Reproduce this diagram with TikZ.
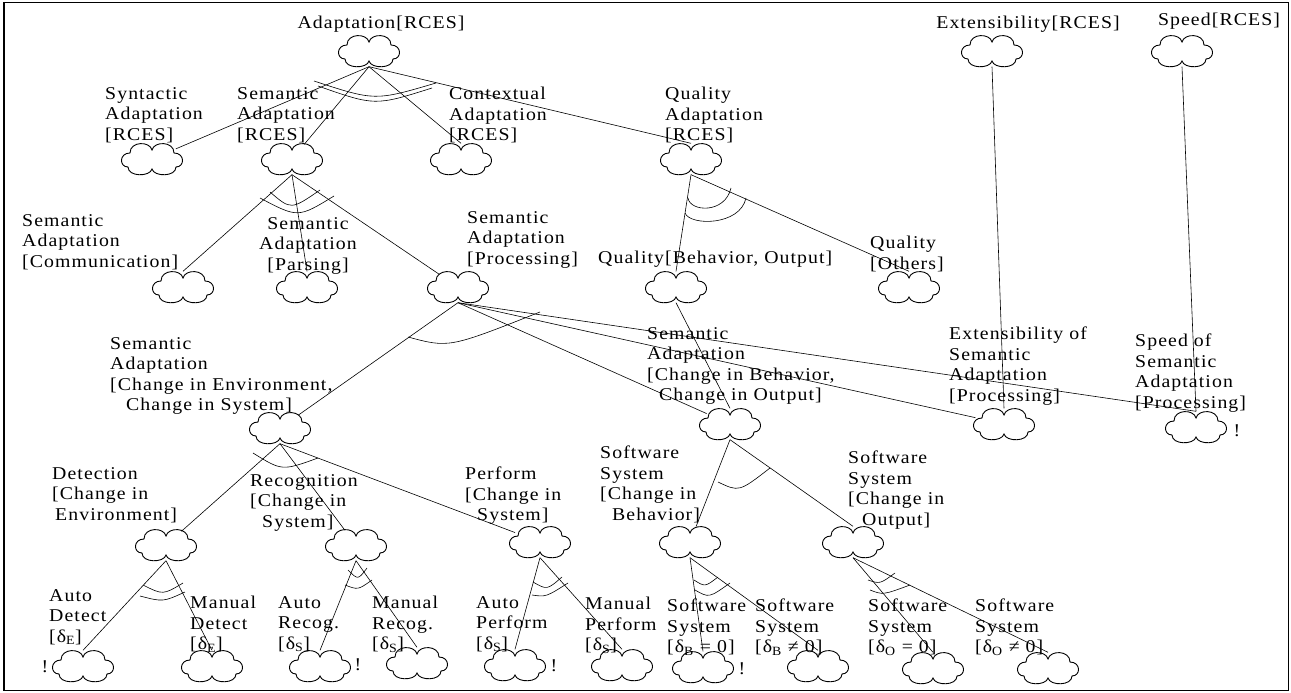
\documentclass[tikz,border=0pt]{standalone}
\usepackage{fontspec}
\setmainfont{Liberation Serif}[FakeStretch=1.1,LetterSpace=6]
\usetikzlibrary{shapes.geometric}

\tikzset{
  pics/goalcloud/.style={code={
    \draw[line width=0.9pt] (-24,8) .. controls (-33,8) and (-33,-6) .. (-22,-6)
      .. controls (-22,-18) and (-2,-18) .. (0,-9)
      .. controls (2,-18) and (22,-18) .. (22,-6)
      .. controls (33,-6) and (33,8) .. (24,8)
      .. controls (24,18) and (2,18) .. (0,10)
      .. controls (-2,18) and (-24,18) .. (-24,8) -- cycle;}}
}

\begin{document}
\begin{tikzpicture}[x=1pt,y=-1pt,
  goal/.style={ellipse, minimum width=62pt, minimum height=31pt, inner sep=0pt,
    append after command={(\tikzlastnode.center) pic {goalcloud}}},
  lbl/.style={inner sep=0pt, align=left, anchor=north west,
    font=\fontsize{18}{20.5}\selectfont},
  bang/.style={inner sep=0pt, font=\fontsize{18}{20.5}\selectfont},
  link/.style={line width=0.6pt}]
  \useasboundingbox (0,0) rectangle (1291,693);
  \draw[line width=1.8pt] (4,2.5) rectangle (1288.5,690.5);

  % clouds
  \node[goal] (adapt) at (369,51) {};
  \node[goal] (ext) at (992,51) {};
  \node[goal] (spd) at (1182,51) {};
  \node[goal] (syn) at (152,159) {};
  \node[goal] (sem) at (292,159) {};
  \node[goal] (ctx) at (461,159) {};
  \node[goal] (qual) at (691,159) {};
  \node[goal] (comm) at (183,287) {};
  \node[goal] (pars) at (307,287) {};
  \node[goal] (proc) at (458,287) {};
  \node[goal] (qbo) at (676,287) {};
  \node[goal] (qoth) at (909,287) {};
  \node[goal] (cie) at (280,428) {};
  \node[goal] (cib) at (730,424) {};
  \node[goal] (extsa) at (1004,424) {};
  \node[goal] (spdsa) at (1196,427) {};
  \node[goal] (det) at (166,545) {};
  \node[goal] (rec) at (356,545) {};
  \node[goal] (perf) at (540,542) {};
  \node[goal] (ssb) at (690,542) {};
  \node[goal] (sso) at (853,542) {};
  \node[goal] (ad) at (83,666) {};
  \node[goal] (md) at (212,666) {};
  \node[goal] (ar) at (320,666) {};
  \node[goal] (mr) at (417,663) {};
  \node[goal] (ap) at (515,665) {};
  \node[goal] (mp) at (622,665) {};
  \node[goal] (bz) at (703,667) {};
  \node[goal] (bn) at (818,666) {};
  \node[goal] (oz) at (933,668) {};
  \node[goal] (on) at (1048,668) {};

  % labels
  \node[lbl, anchor=center] (ladapt) at (381,24) {Adaptation[RCES]};
  \node[lbl, anchor=center] (lext) at (1028,24) {Extensibility[RCES]};
  \node[lbl, anchor=center] (lspd) at (1219,21) {Speed[RCES]};
  \node[lbl] (lsyn) at (105,87) {Syntactic\\Adaptation\\{[RCES]}};
  \node[lbl] (lsem) at (237,87) {Semantic\\Adaptation\\{[RCES]}};
  \node[lbl] (lctx) at (449,87) {Contextual\\Adaptation\\{[RCES]}};
  \node[lbl] (lqual) at (665,87) {Quality\\Adaptation\\{[RCES]}};
  \node[lbl] (lcomm) at (22,214) {Semantic\\Adaptation\\{[Communication]}};
  \node[lbl, align=center, anchor=north] (lpars) at (308,217) {Semantic\\Adaptation\\{[Parsing]}};
  \node[lbl] (lproc) at (467,211) {Semantic\\Adaptation\\{[Processing]}};
  \node[lbl, anchor=west] (lqbo) at (598,259) {Quality[Behavior, Output]};
  \node[lbl] (lqoth) at (870,236) {Quality\\{[Others]}};
  \node[lbl] (lcie) at (110,337) {Semantic\\Adaptation\\{[Change in Environment,}\\\hspace*{16pt}Change in System]};
  \node[lbl] (lcib) at (647,327) {Semantic\\Adaptation\\{[Change in Behavior,}\\\hspace*{12pt}Change in Output]};
  \node[lbl] (lextsa) at (949,327) {Extensibility of\\Semantic\\Adaptation\\{[Processing]}};
  \node[lbl] (lspdsa) at (1135,334) {Speed of\\Semantic\\Adaptation\\{[Processing]}};
  \node[lbl] (ldet) at (52,467) {Detection\\{[Change in}\\\hspace*{3pt}Environment]};
  \node[lbl] (lrec) at (250,474) {Recognition\\{[Change in}\\\hspace*{12pt}System]};
  \node[lbl] (lperf) at (465,467) {Perform\\{[Change in}\\\hspace*{12pt}System]};
  \node[lbl] (lssb) at (600,446) {Software\\System\\{[Change in}\\\hspace*{12pt}Behavior]};
  \node[lbl] (lsso) at (848,451) {Software\\System\\{[Change in}\\\hspace*{14pt}Output]};
  \node[lbl] (lad) at (49,589) {Auto\\Detect\\{[δ\textsubscript{E}]}};
  \node[lbl] (lmd) at (190,596) {Manual\\Detect\\{[δ\textsubscript{E}]}};
  \node[lbl] (lar) at (278,596) {Auto\\Recog.\\{[δ\textsubscript{S}]}};
  \node[lbl] (lmr) at (372,596) {Manual\\Recog.\\{[δ\textsubscript{S}]}};
  \node[lbl] (lap) at (476,596) {Auto\\Perform\\{[δ\textsubscript{S}]}};
  \node[lbl] (lmp) at (585,597) {Manual\\Perform\\{[δ\textsubscript{S}]}};
  \node[lbl] (lbz) at (667,599) {Software\\System\\{[δ\textsubscript{B} = 0]}};
  \node[lbl] (lbn) at (755,599) {Software\\System\\{[δ\textsubscript{B} ≠ 0]}};
  \node[lbl] (loz) at (868,599) {Software\\System\\{[δ\textsubscript{O} = 0]}};
  \node[lbl] (lon) at (975,599) {Software\\System\\{[δ\textsubscript{O} ≠ 0]}};

  \node[bang] (xad) at (45,667) {!};
  \node[bang] (xar) at (358,665) {!};
  \node[bang] (xap) at (554,666) {!};
  \node[bang] (xbz) at (742,669) {!};
  \node[bang] (xspd) at (1237,431) {!};

  % links
  \draw[link] (adapt.south) -- (syn);
  \draw[link] (adapt.south) -- (sem);
  \draw[link] (adapt.south) -- (ctx.north);
  \draw[link] (adapt.south) -- (qual.north);
  \draw[link] (sem.south) -- (comm.north);
  \draw[link] (sem.south) -- (pars.north);
  \draw[link] (sem.south) -- (proc);
  \draw[link] (qual.south) -- (qbo.north);
  \draw[link] (qual.south) -- (qoth.north);
  \draw[link] (ext.south) -- (extsa.north);
  \draw[link] (spd.south) -- (spdsa.north);
  \draw[link] (proc.south) -- (cie);
  \draw[link] (proc.south) -- (cib);
  \draw[link] (proc.south) -- (extsa);
  \draw[link] (proc.south) -- (spdsa.north);
  \draw[link] (qbo.south) -- (cib.north);
  \draw[link] (cie.south) -- (det);
  \draw[link] (cie.south) -- (rec);
  \draw[link] (cie.south) -- (perf);
  \draw[link] (cib.south) -- (ssb);
  \draw[link] (cib.south) -- (sso.north);
  \draw[link] (det.south) -- (ad.north);
  \draw[link] (det.south) -- (md.north);
  \draw[link] (rec.south) -- (ar.north);
  \draw[link] (rec.south) -- (mr.north);
  \draw[link] (perf.south) -- (ap.north);
  \draw[link] (perf.south) -- (mp.north);
  \draw[link] (ssb.south) -- (bz.north);
  \draw[link] (ssb.south) -- (bn.north);
  \draw[link] (sso.south) -- (oz.north);
  \draw[link] (sso.south) -- (on.north);

  % decomposition arcs
  \draw[link] (314,81) .. controls (375,101) .. (436,83);
  \draw[link] (318,86) .. controls (375,106) .. (432,88);
  \draw[link] (270,192) .. controls (291,210) .. (320,190);
  \draw[link] (260,198) .. controls (298,218) .. (334,196);
  \draw[link] (688,198) .. controls (690,212) and (725,214) .. (731,188);
  \draw[link] (685,213) .. controls (690,226) and (740,226) .. (746,198);
  \draw[link] (408,337) .. controls (449,348) .. (540,312);
  \draw[link] (253,453) .. controls (282,471) .. (318,458);
  \draw[link] (143,585) .. controls (163,595) .. (183,583);
  \draw[link] (140,596) .. controls (163,602) .. (185,592);
  \draw[link] (348,570) .. controls (358,580) .. (367,568);
  \draw[link] (345,585) .. controls (358,590) .. (372,580);
  \draw[link] (533,582) .. controls (547,590) .. (562,577);
  \draw[link] (532,595) .. controls (546,597) .. (568,583);
  \draw[link] (718,482) .. controls (739,492) .. (770,468);
  \draw[link] (694,580) .. controls (705,587) .. (718,577);
  \draw[link] (695,590) .. controls (709,598) .. (730,583);
  \draw[link] (868,580) .. controls (880,584) .. (895,573);
  \draw[link] (870,590) .. controls (883,595) .. (910,585);
\end{tikzpicture}
\end{document}
